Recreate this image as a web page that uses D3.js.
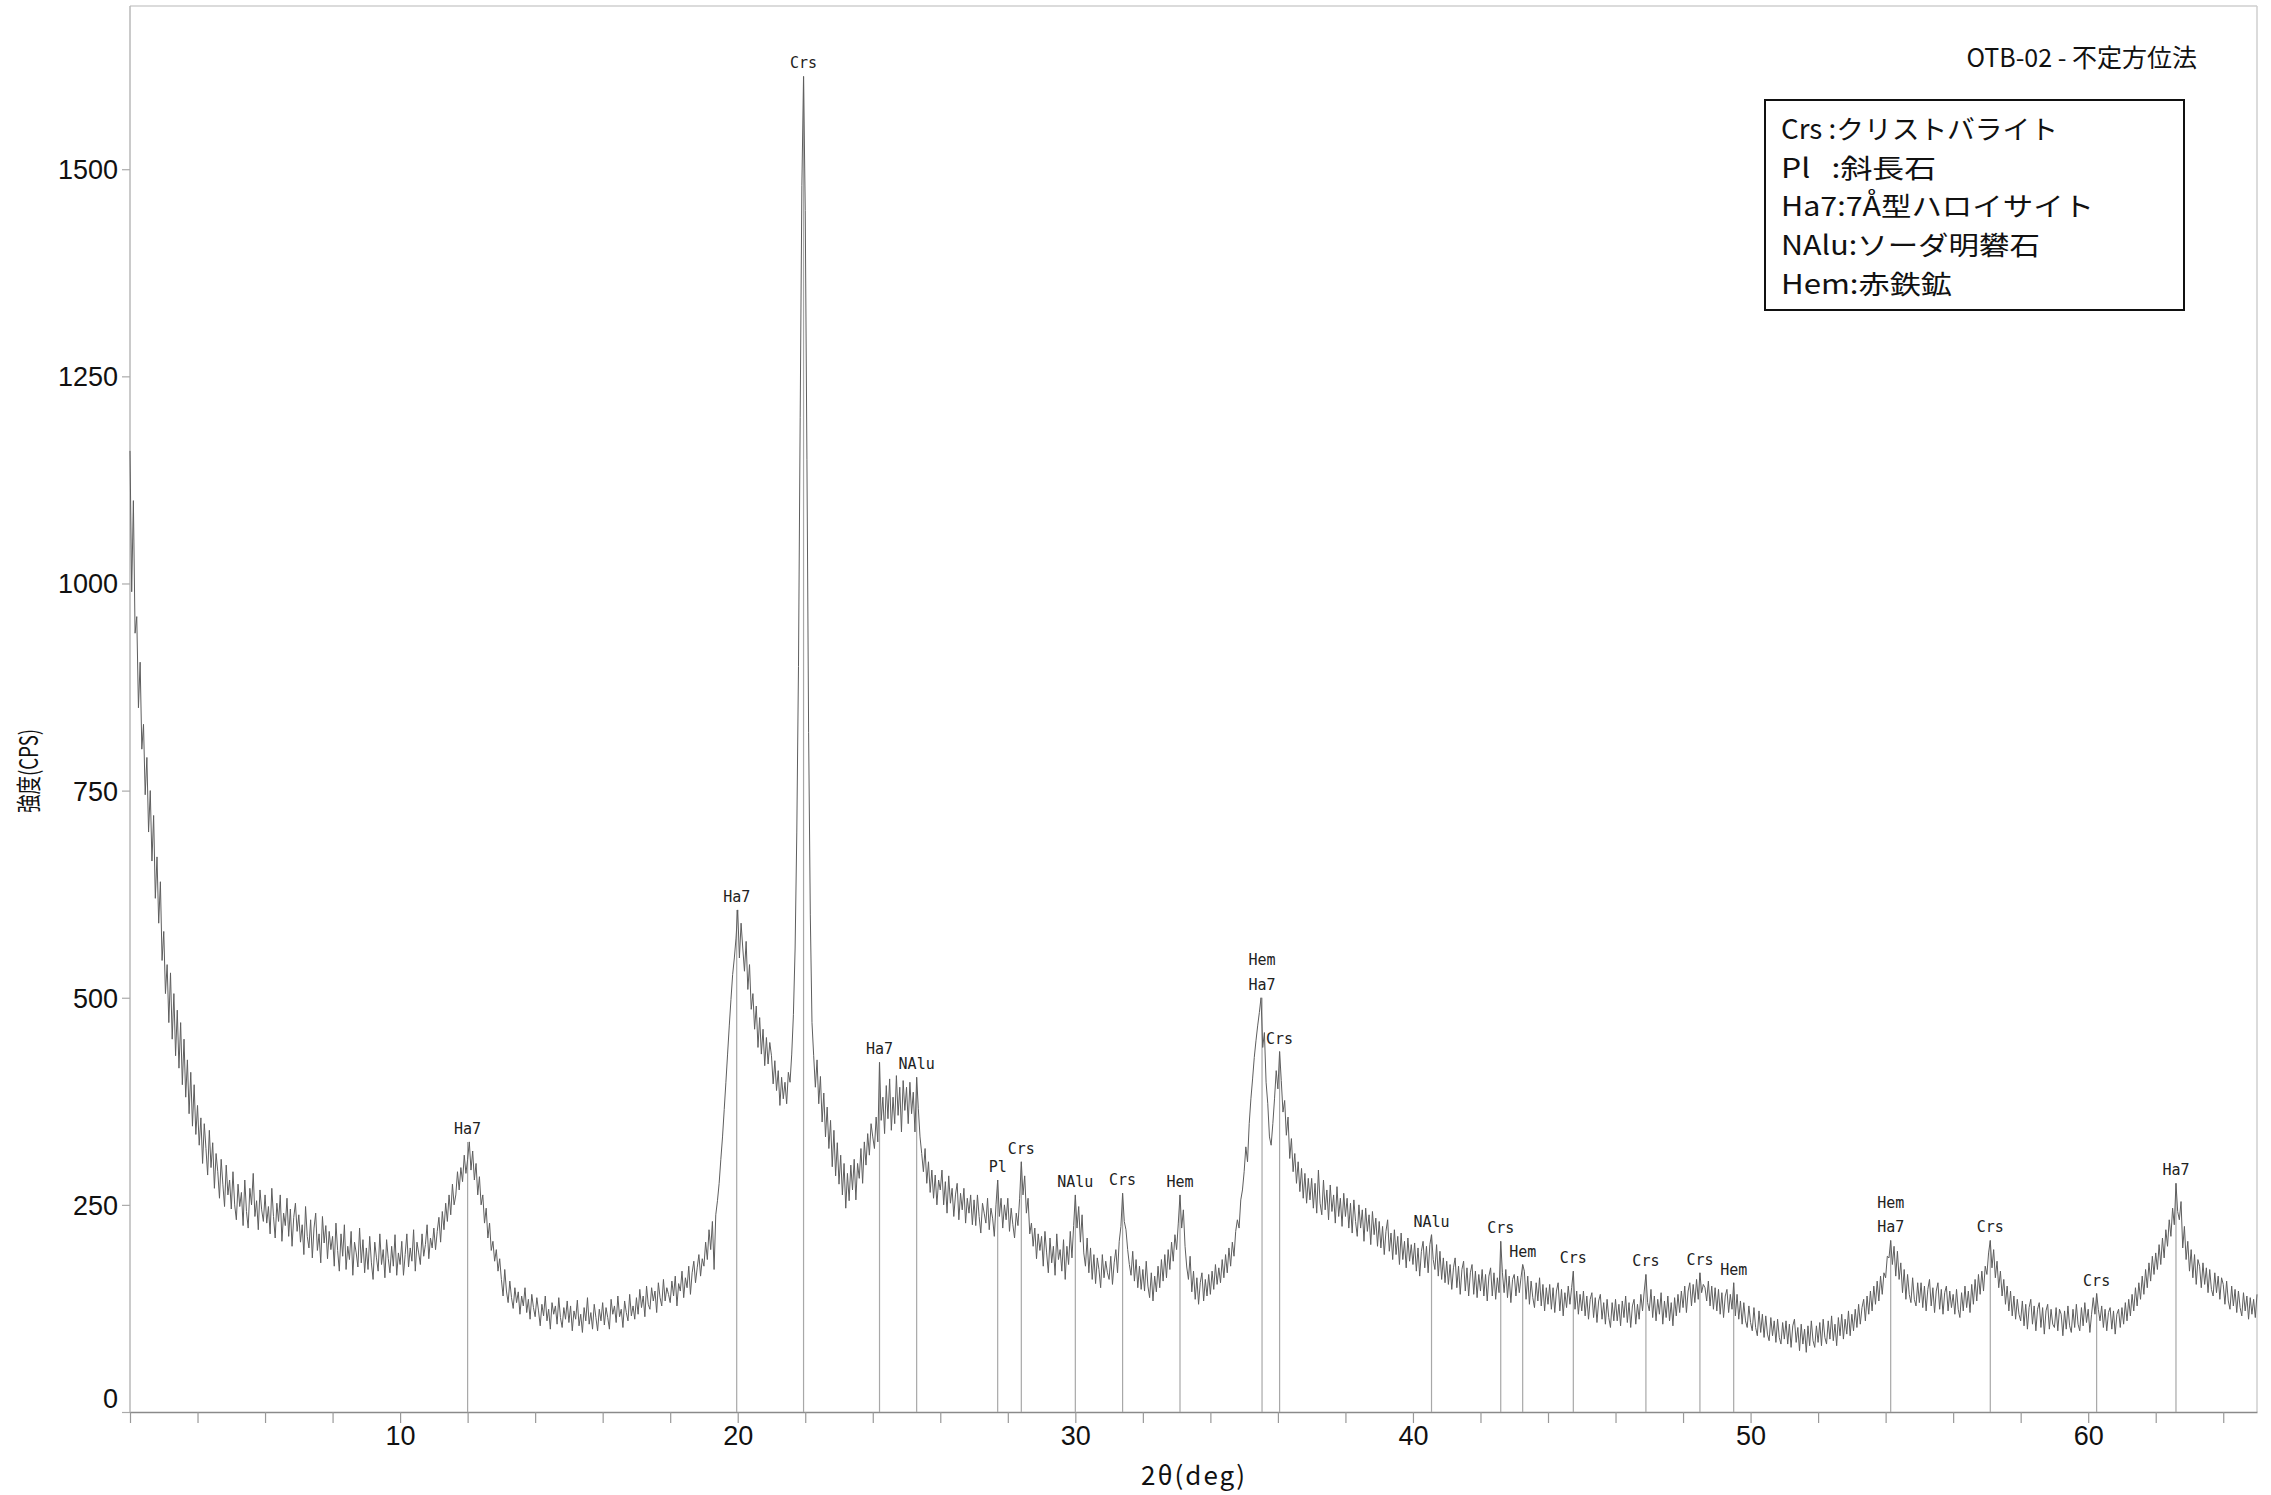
<!DOCTYPE html>
<html><head><meta charset="utf-8">
<script src="https://cdn.jsdelivr.net/npm/d3@7"></script>
<style>html,body{margin:0;padding:0;background:#fff;} svg{display:block;} text{white-space:pre;}</style>
</head><body>
<svg id="chart" width="2271" height="1495"></svg>
<script>
// ---- data ----
const twoThetaStart = 2;      // deg
const twoThetaStep = 0.05;    // deg
const intensity = [
/* 2 */ 1160,990,1100,940,960,850,905,800,830,745,790,700,750,665,720,620,670,590,640,545,
/* 3 */ 580,505,540,470,530,450,505,430,485,415,470,395,450,380,425,360,410,345,395,335,
/* 4 */ 370,322,355,300,348,318,286,340,295,325,270,312,290,258,305,275,248,298,262,280,
/* 5 */ 245,290,250,232,275,248,265,225,280,242,222,270,250,288,236,255,220,268,244,230,
/* 6 */ 262,228,248,215,270,236,210,252,230,262,206,240,225,258,212,245,200,235,252,218,
/* 7 */ 238,205,226,190,248,212,198,232,186,222,240,195,215,180,236,204,225,185,218,196,
/* 8 */ 212,176,228,195,170,215,188,226,172,200,184,218,165,205,192,175,222,180,208,168,
/* 9 */ 198,172,212,180,160,205,186,170,215,178,196,162,208,185,168,200,176,214,165,192,
/*10 */ 178,206,165,190,215,175,198,182,220,170,205,192,178,215,188,202,226,185,210,198,
/*11 */ 222,196,218,235,205,242,220,252,230,262,238,275,250,262,290,268,295,278,310,288,
/*12 */ 305,326,292,315,280,300,262,284,250,262,228,246,210,228,195,206,182,196,170,185,
/*13 */ 160,140,172,146,132,158,138,125,150,132,145,118,140,128,150,120,136,112,142,126,
/*14 */ 115,138,122,104,130,116,140,110,124,100,132,118,128,106,138,114,102,126,112,134,
/*15 */ 108,128,98,122,112,135,104,118,96,126,110,138,106,120,100,130,114,98,124,110,
/*16 */ 132,105,126,114,100,136,118,128,108,140,115,124,102,134,120,110,142,116,128,112,
/*17 */ 138,118,148,126,140,115,152,130,124,150,134,146,120,156,138,128,160,134,150,142,
/*18 */ 132,158,140,164,128,155,146,170,138,162,150,176,142,168,182,156,174,190,164,185,
/*19 */ 176,205,184,220,196,230,172,238,255,276,305,332,365,398,432,466,498,528,548,572,
/*20 */ 606,548,590,560,532,568,510,540,486,505,462,490,440,476,432,462,418,452,420,446,
/*21 */ 430,396,424,388,412,370,404,378,398,372,410,398,432,480,560,700,900,1200,1480,1612,
/*22 */ 1450,1150,820,600,470,430,392,425,372,405,350,385,332,368,318,352,296,340,285,325,
/*23 */ 275,310,262,300,246,288,255,298,268,305,256,300,282,318,276,326,298,336,310,348,
/*24 */ 332,318,356,326,422,352,380,336,394,354,402,340,380,348,406,358,392,338,400,364,
/*25 */ 392,348,398,360,386,338,404,366,332,312,290,318,276,302,265,292,258,286,250,280,
/*26 */ 268,292,250,278,240,285,252,270,236,262,276,232,264,244,270,228,258,240,262,226,
/*27 */ 256,225,262,236,216,252,240,228,258,220,246,234,212,250,280,236,258,222,250,232,
/*28 */ 258,218,246,226,210,240,225,258,302,262,285,240,258,215,228,200,222,185,215,195,
/*29 */ 212,176,218,192,168,210,180,200,165,215,184,196,170,208,160,200,178,218,186,225,
/*30 */ 262,222,248,205,238,192,176,210,168,198,160,190,155,186,172,150,190,162,182,168,
/*31 */ 160,188,154,180,196,168,206,224,264,230,220,196,178,165,194,158,184,150,176,148,
/*32 */ 172,146,182,152,138,168,134,164,145,176,150,184,158,190,162,196,172,205,182,214,
/*33 */ 196,228,262,222,244,200,175,160,188,145,170,136,162,130,156,168,134,160,140,166,
/*34 */ 142,170,148,178,154,174,156,184,162,190,168,198,176,205,188,218,232,222,256,268,
/*35 */ 290,320,302,348,378,402,428,448,466,482,500,440,458,398,372,332,322,348,378,412,
/*36 */ 390,435,400,362,376,334,356,306,330,290,312,276,302,266,294,258,288,252,282,256,
/*37 */ 282,246,276,240,292,252,238,280,244,268,232,274,242,262,228,272,236,258,224,264,
/*38 */ 236,258,222,252,216,256,230,212,250,222,244,206,246,218,238,202,242,214,234,200,
/*39 */ 230,198,224,190,218,232,194,216,184,220,190,212,178,216,184,206,174,210,182,202,
/*40 */ 178,204,170,198,164,194,206,174,200,168,202,214,184,172,202,164,194,160,186,156,
/*41 */ 182,154,178,148,174,186,150,176,142,172,182,146,174,140,168,178,142,170,138,166,
/*42 */ 146,172,140,166,134,164,174,140,168,136,162,144,206,168,144,172,138,164,132,160,
/*43 */ 166,140,164,144,162,178,170,136,164,130,158,138,126,156,134,162,128,154,122,150,
/*44 */ 130,154,124,150,120,146,156,122,148,116,144,126,152,130,150,170,124,146,118,142,
/*45 */ 122,146,116,140,112,136,144,114,138,108,134,142,112,132,106,136,114,102,132,110,
/*46 */ 136,110,130,104,134,114,140,108,132,102,128,136,106,130,112,142,122,146,166,132,
/*47 */ 122,148,114,140,110,136,118,144,106,134,114,140,110,132,104,138,116,142,120,146,
/*48 */ 126,152,120,146,156,128,154,132,160,136,168,144,154,150,134,158,128,152,124,150,
/*49 */ 122,148,118,144,114,140,148,120,142,124,156,116,142,112,134,106,132,110,102,128,
/*50 */ 108,98,126,102,92,122,96,118,90,116,94,86,114,92,110,84,112,90,82,108,
/*51 */ 88,110,82,106,78,104,112,84,102,74,106,82,100,72,104,80,110,86,78,104,
/*52 */ 84,108,80,112,90,82,110,88,116,86,106,80,114,92,118,88,112,94,122,92,
/*53 */ 118,98,124,102,130,106,126,136,110,140,118,146,122,152,130,158,134,164,142,168,
/*54 */ 162,188,186,207,178,200,164,194,160,180,144,172,136,166,142,132,162,136,128,156,
/*55 */ 132,156,126,152,122,148,160,128,150,120,146,156,124,148,118,144,152,122,146,126,
/*56 */ 142,118,148,124,114,144,122,152,126,146,120,154,130,160,134,166,142,170,146,176,
/*57 */ 166,192,207,174,196,162,182,150,170,140,160,130,152,122,146,116,140,112,136,118,
/*58 */ 110,134,104,130,100,126,136,106,128,98,124,132,102,126,94,122,130,100,124,106,
/*59 */ 102,126,98,124,118,92,122,100,128,104,96,124,102,130,106,98,126,104,132,108,
/*60 */ 124,96,118,138,118,143,124,110,128,102,124,98,120,126,100,122,94,118,124,102,
/*61 */ 126,106,132,110,136,116,142,122,150,128,156,136,164,142,172,150,180,158,188,166,
/*62 */ 192,172,202,178,210,186,220,200,232,212,246,226,276,242,232,254,198,224,184,206,
/*63 */ 170,196,162,190,154,184,176,150,180,154,174,144,172,148,140,168,144,164,136,162,
/*64 */ 154,130,158,134,124,152,128,148,120,146,126,116,144,122,140,112,138,118,136,114,
/*65 */ 142
];

const yTickValues = [0, 250, 500, 750, 1000, 1250, 1500];
const xTickLabels = [10, 20, 30, 40, 50, 60];
const xMinorStep = 2;

// identified peaks: position (deg), phase labels (top to bottom), peak top (CPS)
const peakPos   = [12.0, 19.97, 21.95, 24.2, 25.3, 27.7, 28.4, 30.0, 31.4, 33.1, 35.53, 36.05, 40.55, 42.6, 43.25, 44.75, 46.9, 48.5, 49.5, 54.15, 57.1, 60.25, 62.6];
const peakNames = [["Ha7"],["Ha7"],["Crs"],["Ha7"],["NAlu"],["Pl"],["Crs"],["NAlu"],["Crs"],["Hem"],["Hem","Ha7"],["Crs"],["NAlu"],["Crs"],["Hem"],["Crs"],["Crs"],["Crs"],["Hem"],["Hem","Ha7"],["Crs"],["Crs"],["Ha7"]];
const peakTop   = [326, 606, 1612, 422, 404, 280, 302, 262, 264, 262, 500, 435, 214, 206, 178, 170, 166, 168, 156, 207, 207, 143, 276];

const legendLines = ["Crs :クリストバライト", "Pl   :斜長石", "Ha7:7Å型ハロイサイト", "NAlu:ソーダ明礬石", "Hem:赤鉄鉱"];
const chartTitle = "OTB-02 - 不定方位法";
const xTitle = "2θ(deg)";
const yTitle = "強度(CPS)";

// ---- drawing ----
const svg = d3.select("#chart");
const x = d3.scaleLinear().domain([2, 65]).range([130, 2257]);
const y = d3.scaleLinear().domain([0, 1697]).range([1412, 6]);
const jp = "'Noto Sans CJK JP','Noto Sans',sans-serif";
const lat = "'Liberation Sans',Arial,sans-serif";
const legendTextWidths = [277, 155, 313, 259, 171];

svg.append("rect").attr("width", 2271).attr("height", 1495).attr("fill", "#fff");

// frame
svg.append("line").attr("x1", x(2)).attr("x2", x(65)).attr("y1", y(1697)).attr("y2", y(1697)).attr("stroke", "#cfcfcf").attr("stroke-width", 1.5);
svg.append("line").attr("x1", x(65)).attr("x2", x(65)).attr("y1", y(1697)).attr("y2", y(0)).attr("stroke", "#cfcfcf").attr("stroke-width", 1.5);
svg.append("line").attr("x1", x(2)).attr("x2", x(2)).attr("y1", y(1697)).attr("y2", y(0)).attr("stroke", "#b8b8b8").attr("stroke-width", 1.5);

// y axis
const yAxis = svg.append("g").attr("transform", `translate(${x(2)},0)`)
  .call(d3.axisLeft(y).tickValues(yTickValues).tickSize(8).tickPadding(4).tickSizeOuter(0).tickFormat(d3.format("d")));
yAxis.select(".domain").remove();
yAxis.selectAll(".tick line").attr("stroke", "#aaa").attr("stroke-width", 1.2);
yAxis.selectAll(".tick text").attr("font-family", lat).attr("font-size", 27).attr("fill", "#111")
  .attr("dy", d => d === 0 ? "-0.15em" : "0.35em");

// x axis
const xAxis = svg.append("g").attr("transform", `translate(0,${y(0)})`)
  .call(d3.axisBottom(x).tickValues(d3.range(2, 65, xMinorStep)).tickSize(11).tickPadding(3).tickSizeOuter(0)
    .tickFormat(d => xTickLabels.includes(d) ? String(d) : ""));
xAxis.select(".domain").attr("stroke", "#8a8a8a").attr("stroke-width", 1.5);
xAxis.selectAll(".tick line").attr("stroke", "#999").attr("stroke-width", 1.2);
xAxis.selectAll(".tick text").attr("font-family", lat).attr("font-size", 27).attr("fill", "#111");

// peak marker lines
const pk = peakPos.map((p, i) => ({pos: p, names: peakNames[i], top: peakTop[i]}));
svg.append("g").selectAll("line").data(pk).join("line")
  .attr("x1", d => x(d.pos)).attr("x2", d => x(d.pos))
  .attr("y1", d => y(d.top)).attr("y2", y(0))
  .attr("stroke", "#a8a8a8").attr("stroke-width", 1.2);

// pattern
const line = d3.line().x((d, i) => x(twoThetaStart + i * twoThetaStep)).y(d => y(d));
svg.append("path").datum(intensity).attr("d", line)
  .attr("fill", "none").attr("stroke", "#5e5e5e").attr("stroke-width", 1).attr("stroke-linejoin", "miter");

// peak labels
const lg = svg.append("g").attr("font-family", "'DejaVu Sans Mono',monospace").attr("font-size", 15).attr("fill", "#222").attr("text-anchor", "middle");
pk.forEach(d => {
  const n = d.names.length;
  d.names.forEach((nm, j) => {
    lg.append("text").attr("x", x(d.pos)).attr("y", y(d.top) - 8 - (n - 1 - j) * 24.5).text(nm);
  });
});

// title
svg.append("text").attr("x", 2197).attr("y", 58).attr("dy", "0.35em").attr("text-anchor", "end")
  .attr("font-family", jp).attr("font-size", 25).attr("fill", "#111").text(chartTitle);

// legend box
svg.append("rect").attr("x", 1765).attr("y", 100).attr("width", 419).attr("height", 210)
  .attr("fill", "#fff").attr("stroke", "#111").attr("stroke-width", 2);
svg.append("g").selectAll("text").data(legendLines).join("text")
  .attr("x", 1781).attr("y", (d, i) => 130 + i * 38.6).attr("dy", "0.35em")
  .attr("textLength", (d, i) => legendTextWidths[i]).attr("lengthAdjust", "spacingAndGlyphs")
  .attr("font-family", jp).attr("font-size", 26.5).attr("fill", "#111").text(d => d);

// axis titles
svg.append("text").attr("x", 1193).attr("y", 1476).attr("dy", "0.35em").attr("text-anchor", "middle")
  .attr("textLength", 104).attr("lengthAdjust", "spacing")
  .attr("font-family", jp).attr("font-size", 26).attr("fill", "#111").text(xTitle);
svg.append("text").attr("transform", "translate(29,771) rotate(-90)").attr("dy", "0.35em").attr("text-anchor", "middle")
  .attr("textLength", 84).attr("lengthAdjust", "spacingAndGlyphs")
  .attr("font-family", jp).attr("font-size", 25).attr("fill", "#111").text(yTitle);
</script>
</body></html>
